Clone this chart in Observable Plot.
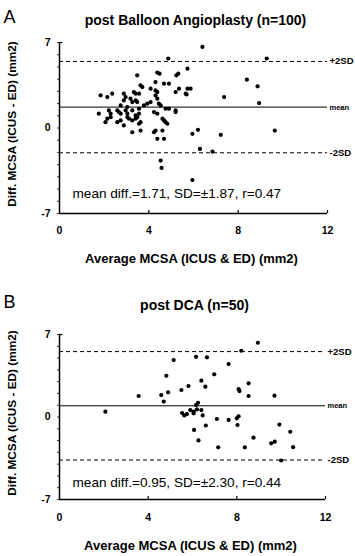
<!DOCTYPE html>
<html>
<head>
<meta charset="utf-8">
<script src="https://cdn.jsdelivr.net/npm/d3@7"></script>
<script src="https://cdn.jsdelivr.net/npm/@observablehq/plot@0.6"></script>
<style>
  html, body { margin: 0; padding: 0; background: #fff; }
  svg { display: block; }
</style>
</head>
<body>
<div id="chart"></div>
<script>
// Panel A: post Balloon Angioplasty (n=100)
const avgA = [3.48,4.38,4.48,5.23,5.32,3.63,3.71,4.30,4.68,4.90,4.08,4.30,4.38,5.73,5.87,5.20,5.65,1.84,2.14,2.36,
  2.88,2.96,3.33,3.41,3.56,4.30,4.38,2.88,3.18,3.26,3.41,3.48,3.93,4.08,3.78,4.45,4.53,2.74,3.04,4.75,
  4.90,5.20,5.20,1.76,2.21,2.29,2.59,2.66,2.74,2.96,3.04,3.26,3.56,3.41,3.56,4.23,4.38,2.14,2.29,2.06,
  2.59,2.74,3.04,3.11,3.26,3.41,3.48,2.88,3.56,3.63,4.61,4.68,4.75,4.83,4.23,4.30,3.26,3.63,4.61,4.38,
  4.68,4.53,4.57,5.95,5.95,6.20,7.22,9.64,6.29,6.85,6.40,9.28,8.39,8.87,8.94,7.37,5.35,5.69,4.87,5.73];
const diffA = [4.31,4.54,4.45,4.31,4.45,3.49,3.35,3.76,3.63,3.63,3.22,3.08,2.94,3.22,3.22,2.94,2.81,2.67,2.53,2.81,
  2.81,2.53,2.94,2.81,2.81,2.67,2.40,2.26,2.40,2.12,2.26,2.12,1.99,2.12,1.85,1.99,1.85,1.85,1.71,1.58,
  1.58,1.44,1.30,1.17,1.44,1.17,1.44,1.30,1.17,1.44,1.17,1.44,1.58,1.03,1.17,1.30,1.17,0.76,0.89,0.48,
  0.48,0.62,0.89,0.76,0.62,0.76,0.89,0.21,0.35,0.48,0.76,0.62,0.48,0.35,-0.35,-0.21,-0.35,-0.21,-0.21,-0.89,
  -0.89,-2.67,-3.27,-4.26,-0.48,-0.15,-0.56,-0.21,-1.71,-1.93,6.64,5.69,3.96,3.41,2.04,2.53,3.22,2.75,5.69,4.86];

// Panel B: post DCA (n=50)
const avgB = [2.07,3.57,4.59,4.70,4.90,4.82,5.15,5.50,5.82,5.53,5.63,5.90,6.05,6.20,6.40,6.16,6.25,6.46,6.16,6.65,
  6.98,6.40,6.58,7.63,8.08,8.12,8.53,8.53,9.70,8.20,8.95,7.10,7.63,8.00,8.08,8.03,6.60,6.07,6.27,9.92,
  10.41,8.75,7.16,8.36,9.55,9.71,10.54,10.00,6.05,5.75];
const diffB = [0.45,1.78,1.86,1.31,2.09,3.50,4.83,2.29,2.63,0.34,0.13,0.59,0.45,0.64,0.59,1.02,1.21,0.13,5.11,5.06,
  3.62,3.08,2.57,4.49,2.37,2.20,2.86,1.78,1.81,5.62,6.30,-0.17,-0.25,-0.11,0.06,-0.68,-0.72,-1.10,-1.99,-0.64,
  -1.25,-1.75,-2.57,-2.58,-2.23,-2.09,-2.56,-3.69,0.31,0.25];

const panels = [
  {letter: "A", title: "post Balloon Angioplasty (n=100)", mean: 1.71, sd: 1.87, r: 0.47, avg: avgA, diff: diffA,
   marginTop: 42, marginBottom: 65, marginRight: 28, letterDy: -20, titleDy: -18, statsDy: -15.5, xlabDy: 49, tickDy: 20},
  {letter: "B", title: "post DCA (n=50)", mean: 0.95, sd: 2.30, r: 0.44, avg: avgB, diff: diffB,
   marginTop: 56, marginBottom: 57, marginRight: 30, letterDy: -27, titleDy: -25, statsDy: -13, xlabDy: 50.5, tickDy: 21.5}
];

const xTicks = [0, 4, 8, 12];
const yTicks = [7, 0, -7];
const yMinor = [-7,-6,-5,-4,-3,-2,-1,0,1,2,3,4,5,6,7];
const xLabel = "Average MCSA (ICUS & ED) (mm2)";
const yLabel = "Diff. MCSA (ICUS - ED) (mm2)";
const FONT = "'Liberation Sans', Arial, Helvetica, sans-serif";

const chart = document.getElementById("chart");

for (const p of panels) {
  const pts = p.avg.map((a, i) => ({a, d: p.diff[i]}));
  const upper = +(p.mean + 2 * p.sd).toFixed(2);
  const lower = +(p.mean - 2 * p.sd).toFixed(2);
  const lines = [
    {y: upper, label: "+2SD", dash: "4,3", size: 9.5},
    {y: p.mean, label: "mean", dash: null, size: 7.5},
    {y: lower, label: "-2SD", dash: "4,3", size: 9.5}
  ];
  const stats = `mean diff.=${p.mean.toFixed(2)}, SD=±${p.sd.toFixed(2)}, r=${p.r.toFixed(2)}`;

  const svg = Plot.plot({
    width: 355,
    height: 278,
    marginLeft: 59,
    marginRight: p.marginRight,
    marginTop: p.marginTop,
    marginBottom: p.marginBottom,
    style: {fontFamily: FONT, fontSize: "10px", color: "#000", background: "#fff", overflow: "visible"},
    x: {domain: [0, 12], axis: null},
    y: {domain: [-7, 7], axis: null},
    marks: [
      // reference lines
      Plot.ruleY(lines.filter(l => l.dash), {y: "y", x1: 0, x2: 12, stroke: "#000", strokeWidth: 1, strokeDasharray: "4,3"}),
      Plot.ruleY(lines.filter(l => !l.dash), {y: "y", x1: 0, x2: 12, stroke: "#000", strokeWidth: 1}),
      Plot.text(lines, {x: 12, y: "y", text: "label", dx: 2, textAnchor: "start", lineAnchor: "middle",
        fontSize: d => d.size, fontWeight: "bold", fill: "#000"}),
      // axes frame
      Plot.ruleX([0], {y1: -7, y2: 7, stroke: "#000", strokeWidth: 1.5}),
      Plot.ruleY([-7], {x1: 0, x2: 12, stroke: "#000", strokeWidth: 1.5}),
      Plot.ruleY([7], {x1: 0, x2: 0.15, stroke: "#000", strokeWidth: 1.2}),
      Plot.ruleX(xTicks.slice(1), {y1: -7, y2: -6.75, stroke: "#000", strokeWidth: 1.2}),
      Plot.axisY({ticks: yMinor, tickSize: 2, tickFormat: () => "", stroke: "#000", strokeWidth: 0.8}),
      // tick labels
      Plot.text(yTicks, {x: 0, y: d => d, text: d => String(d), dx: -9, textAnchor: "end", lineAnchor: "middle",
        fontWeight: "bold", fontSize: 10.5, fill: "#000"}),
      Plot.text(xTicks, {x: d => d, y: -7, text: d => String(d), dy: p.tickDy, lineAnchor: "bottom",
        fontWeight: "bold", fontSize: 10.5, fill: "#000"}),
      // data points
      Plot.dot(pts, {x: "a", y: "d", r: 2.1, fill: "#000", stroke: "none"}),
      // annotations
      Plot.text([stats], {frameAnchor: "bottom-left", dx: 13, dy: p.statsDy, textAnchor: "start", lineAnchor: "bottom",
        fontSize: 13.6, fill: "#000"}),
      Plot.text([p.title], {frameAnchor: "top", dx: 2, dy: p.titleDy, lineAnchor: "bottom",
        fontSize: 14, fontWeight: "bold", fill: "#000", letterSpacing: "2.2px"}),
      Plot.text([p.letter], {frameAnchor: "top-left", dx: -56, dy: p.letterDy, textAnchor: "start", lineAnchor: "bottom",
        fontSize: 18, fill: "#000"}),
      Plot.text([xLabel], {frameAnchor: "bottom", dx: -2, dy: p.xlabDy, lineAnchor: "bottom",
        fontSize: 13, fontWeight: "bold", fill: "#000"}),
      Plot.text([yLabel], {x: 0, y: 0, dx: -47, dy: -4, rotate: -90, lineAnchor: "middle",
        fontSize: 11.8, fontWeight: "bold", fill: "#000"})
    ]
  });
  chart.appendChild(svg);
}
</script>
</body>
</html>
